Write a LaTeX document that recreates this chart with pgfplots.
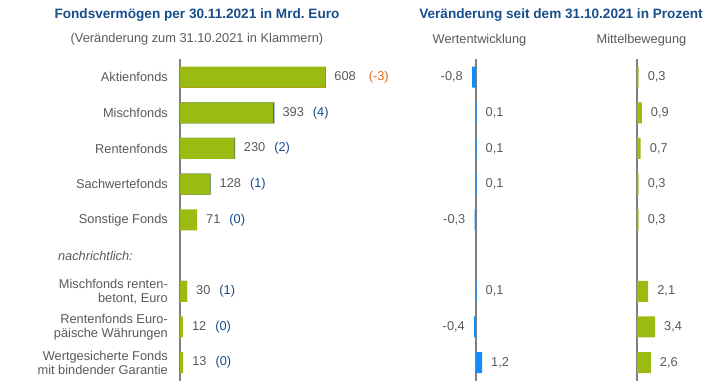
\documentclass[border=0pt]{standalone}
\usepackage{pgfplots}
\pgfplotsset{compat=1.18}
\usepackage{fontspec}
\setmainfont{Liberation Sans}
\definecolor{titleblue}{RGB}{23,78,140}
\definecolor{txtgray}{RGB}{89,89,89}
\definecolor{barg}{RGB}{155,187,18}
\definecolor{barb}{RGB}{18,140,250}
\definecolor{chgblue}{RGB}{20,75,135}
\definecolor{chgorange}{RGB}{222,105,30}
\definecolor{axgray}{RGB}{128,128,128}
\begin{document}
\frenchspacing
\fontsize{12.8bp}{14bp}\selectfont
\begin{tikzpicture}
\useasboundingbox (0bp,0bp) rectangle (720bp,388bp);
\pgfplotsset{
  common/.style={
    scale only axis, height=321.3bp,
    ymin=-0.5, ymax=8.5, y dir=reverse,
    axis x line=none, xtick=\empty,
    major tick length=0pt,
    clip=false,
    xbar, bar width=21bp, bar shift=0pt,
  },
  lblpos/.style={
    point meta=explicit symbolic, nodes near coords,
    nodes near coords style={anchor=west, text=txtgray, inner xsep=9bp, inner ysep=0pt,
      font=\fontsize{12.8bp}{14bp}\selectfont},
  },
  lblneg/.style={
    point meta=explicit symbolic, nodes near coords,
    nodes near coords style={anchor=east, text=txtgray, inner xsep=9bp, inner ysep=0pt,
      font=\fontsize{12.8bp}{14bp}\selectfont},
  },
}
% titles
\node[text=titleblue, font=\fontsize{13.6bp}{15bp}\selectfont\bfseries] at (197bp,373bp) {Fondsvermögen per 30.11.2021 in Mrd. Euro};
\node[text=txtgray] at (197bp,349bp) {(Veränderung zum 31.10.2021 in Klammern)};
\node[text=titleblue, font=\fontsize{13.6bp}{15bp}\selectfont\bfseries] at (561bp,373bp) {Veränderung seit dem 31.10.2021 in Prozent};
\node[text=txtgray] at (479.5bp,348bp) {Wertentwicklung};
\node[text=txtgray] at (641.5bp,348bp) {Mittelbewegung};

% left chart
\begin{axis}[common,
  at={(180bp,328.8bp)}, anchor=north west,
  width=240bp, xmin=0, xmax=1000,
  axis y line=left,
  y axis line style={draw=axgray, line width=1.5bp, -},
  ytick={0,1,2,3,4,5,6,7,8},
  yticklabels={Aktienfonds, Mischfonds, Rentenfonds, Sachwertefonds, Sonstige Fonds,
    {\textit{nachrichtlich:}\hspace*{35bp}},
    {Mischfonds renten-\\betont, Euro},
    {Rentenfonds Euro-\\päische Währungen},
    {Wertgesicherte Fonds\\mit bindender Garantie}},
  yticklabel style={align=right, text=txtgray, inner xsep=0pt, xshift=-12bp,
    font=\fontsize{12.8bp}{14bp}\selectfont},
]
% change segments (drawn underneath, visible at the bar end)
\addplot[fill=chgorange, draw=none] coordinates {(608,0)};
\addplot[fill=chgblue, draw=none] coordinates {(393,1) (230,2) (128,3) (30,6)};
% fund volumes
\addplot[fill=barg, draw=none, lblpos] coordinates {
  (605,0) [608\hspace*{13bp}\textcolor{chgorange}{(-3)}]
  (389,1) [393\hspace*{9bp}\textcolor{chgblue}{(4)}]
  (228,2) [230\hspace*{9bp}\textcolor{chgblue}{(2)}]
  (127,3) [128\hspace*{9bp}\textcolor{chgblue}{(1)}]
  (71,4) [71\hspace*{9bp}\textcolor{chgblue}{(0)}]
  (29,6) [30\hspace*{9bp}\textcolor{chgblue}{(1)}]
  (12,7) [12\hspace*{9bp}\textcolor{chgblue}{(0)}]
  (13,8) [13\hspace*{9bp}\textcolor{chgblue}{(0)}]
};
\end{axis}

% Wertentwicklung
\begin{axis}[common,
  at={(436bp,328.8bp)}, anchor=north west,
  width=100bp, xmin=-8, xmax=12,
  axis y line=center,
  y axis line style={draw=axgray, line width=1.5bp, -},
  ytick=\empty,
]
\addplot[fill=barb, draw=none, lblneg] coordinates {
  (-0.8,0) [-0,8] (-0.3,4) [-0,3] (-0.4,7) [-0,4]
};
\addplot[fill=barb, draw=none, lblpos] coordinates {
  (0.1,1) [0,1] (0.1,2) [0,1] (0.1,3) [0,1] (0.1,6) [0,1] (1.2,8) [1,2]
};
\end{axis}

% Mittelbewegung
\begin{axis}[common,
  at={(597.25bp,328.8bp)}, anchor=north west,
  width=106bp, xmin=-7.5, xmax=12.5,
  axis y line=center,
  y axis line style={draw=axgray, line width=1.5bp, -},
  ytick=\empty,
]
\addplot[fill=barg, draw=none, lblpos] coordinates {
  (0.3,0) [0,3] (0.9,1) [0,9] (0.7,2) [0,7] (0.3,3) [0,3] (0.3,4) [0,3]
  (2.1,6) [2,1] (3.4,7) [3,4] (2.6,8) [2,6]
};
\end{axis}
\end{tikzpicture}
\end{document}
